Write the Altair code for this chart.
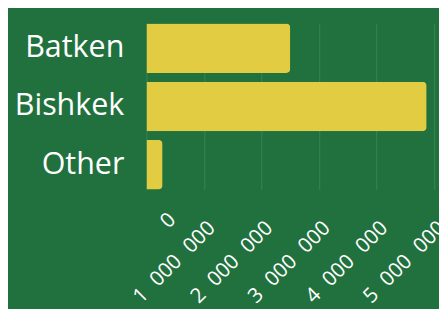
import altair as alt
import pandas as pd

regions = ["Batken", "Bishkek", "Other"]
values = [2500000, 4870000, 280000]
tick_values = [0, 1000000, 2000000, 3000000, 4000000, 5000000]

df = pd.DataFrame({"region": regions, "value": values})

bg = "#21713E"
bar_color = "#E2CD42"

chart = alt.Chart(df).mark_bar(color=bar_color, cornerRadiusEnd=4).encode(
    x=alt.X("value:Q",
            scale=alt.Scale(domain=[0, 5000000], nice=False),
            axis=alt.Axis(
                title=None,
                values=tick_values,
                labelExpr="replace(format(datum.value, ','), regexp(',', 'g'), '\u2007')",
                labelAngle=-45,
                labelFontSize=21,
                labelFont="Open Sans",
                labelColor="white",
                labelOverlap=False,
                labelAlign=alt.ConditionalAxisLabelAlign(
                    condition={"test": "datum.value == 0", "value": "left"},
                    value="right"),
                labelOffset=alt.ConditionalAxisNumber(
                    condition={"test": "datum.value == 0", "value": 10},
                    value=0),
                domain=False,
                ticks=False,
                grid=True,
                gridColor="#FFFFFF",
                gridOpacity=0.12,
                labelPadding=28,
            )),
    y=alt.Y("region:N", sort=regions,
            scale=alt.Scale(paddingInner=0.15, paddingOuter=0),
            axis=alt.Axis(
                title=None,
                labelFontSize=31,
                labelFont="Open Sans",
                labelColor="white",
                domain=False,
                ticks=False,
                grid=False,
                labelPadding=23,
            )),
).properties(
    width=293,
    height=169,
    background=bg,
    autosize=alt.AutoSizeParams(type="none"),
    padding={"left": 141, "top": 13, "right": 5, "bottom": 119},
).configure_view(stroke=None)

chart.save("out.html", embed_options={"renderer": "svg", "actions": False})
